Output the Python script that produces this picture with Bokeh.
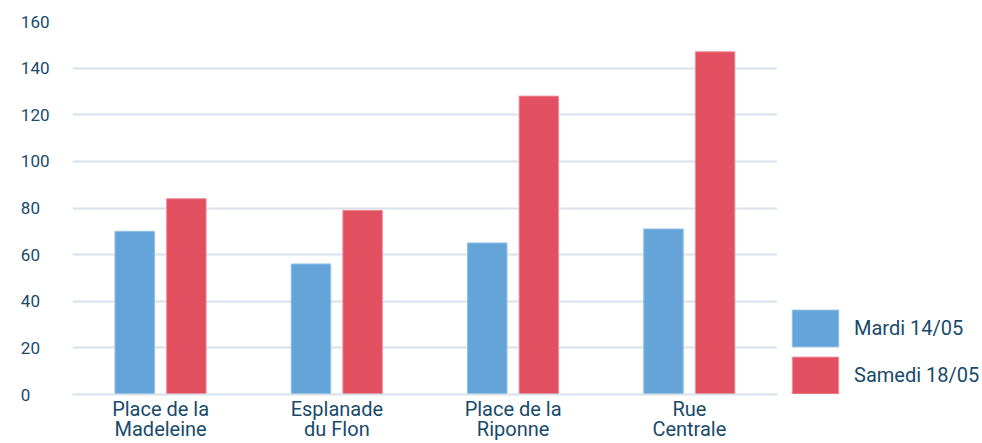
from bokeh.plotting import figure
from bokeh.layouts import row
from bokeh.models import ColumnDataSource, Legend, LegendItem, FixedTicker
from bokeh.transform import dodge
from bokeh.embed import file_html
from bokeh.resources import INLINE

categories = ["Place de la\nMadeleine", "Esplanade\ndu Flon", "Place de la\nRiponne", "Rue\nCentrale"]
mardi = [70, 56, 65, 71]
samedi = [84, 79, 128, 147]
series_names = ["Mardi 14/05", "Samedi 18/05"]
y_ticks = [0, 20, 40, 60, 80, 100, 120, 140, 160]

BLUE = "#64a4d8"
RED = "#e24f61"
TEXT = "#184a6b"
GRID = "#d8e2ea"
FONT = "Roboto"

src = ColumnDataSource(dict(cat=categories, mardi=mardi, samedi=samedi))

p = figure(x_range=categories, y_range=(0, 160), width=777, height=443,
           output_backend="svg", toolbar_location=None,
           min_border_left=72, min_border_right=0, min_border_top=21,
           min_border_bottom=47)
p.outline_line_color = None
p.background_fill_color = "white"
p.border_fill_color = "white"

r1 = p.vbar(x=dodge("cat", -0.147, range=p.x_range), top="mardi", width=0.224,
            source=src, fill_color=BLUE, line_color="#8fc0e6", line_width=1)
r2 = p.vbar(x=dodge("cat", 0.146, range=p.x_range), top="samedi", width=0.224,
            source=src, fill_color=RED, line_color="#ee8f9b", line_width=1)

p.xgrid.grid_line_color = None
p.ygrid.ticker = FixedTicker(ticks=y_ticks)
p.ygrid.grid_line_color = GRID
p.ygrid.grid_line_width = 2

p.yaxis.ticker = FixedTicker(ticks=y_ticks)
p.yaxis.major_label_overrides = {t: str(t) + "\u2007" * (3 - len(str(t))) for t in y_ticks}
p.yaxis.axis_line_color = None
p.yaxis.major_tick_line_color = None
p.yaxis.minor_tick_line_color = None
p.yaxis.major_tick_out = 0
p.yaxis.major_label_text_font = FONT
p.yaxis.major_label_text_font_size = "17px"
p.yaxis.major_label_text_color = TEXT
p.yaxis.major_label_standoff = 23

p.xaxis.axis_line_color = GRID
p.xaxis.axis_line_width = 2
p.xaxis.major_tick_line_color = None
p.xaxis.minor_tick_line_color = None
p.xaxis.major_tick_out = 0
p.xaxis.major_tick_in = 0
p.xaxis.major_label_text_font = FONT
p.xaxis.major_label_text_font_size = "20px"
p.xaxis.major_label_text_line_height = 0.85
p.xaxis.major_label_text_color = TEXT
p.xaxis.major_label_standoff = 2

# legend panel
lg = figure(width=205, height=443, x_range=(0, 1), y_range=(1, 2),
            output_backend="svg", toolbar_location=None,
            x_axis_location=None, y_axis_location=None,
            min_border_left=0, min_border_right=0, min_border_top=0, min_border_bottom=0)
lg.outline_line_color = None
lg.xgrid.visible = False
lg.ygrid.visible = False
d1 = lg.vbar(x=[-5], top=[-5], bottom=[-6], width=0.1, fill_color=BLUE, line_color="#8fc0e6", line_width=1)
d2 = lg.vbar(x=[-5], top=[-5], bottom=[-6], width=0.1, fill_color=RED, line_color="#ee8f9b", line_width=1)
legend = Legend(items=[LegendItem(label=series_names[0], renderers=[d1]),
                       LegendItem(label=series_names[1], renderers=[d2])],
                location=(9, -4), glyph_width=58, glyph_height=46, spacing=1,
                label_standoff=10, label_text_font=FONT, label_text_font_size="20px",
                label_text_color=TEXT, padding=0, margin=0,
                border_line_color=None, background_fill_alpha=0)
lg.add_layout(legend)

layout = row(p, lg)
open("out.html", "w").write(file_html(layout, INLINE))
